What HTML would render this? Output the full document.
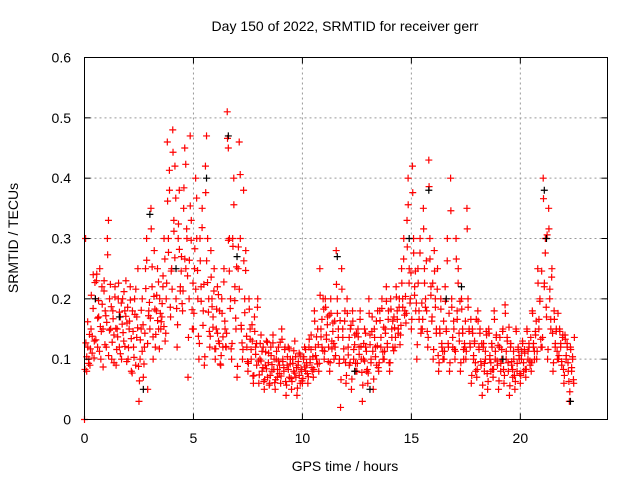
<!DOCTYPE html>
<html><head><meta charset="utf-8"><style>
body{margin:0;background:#fff;}
svg text{font-family:"Liberation Sans",sans-serif;font-size:14px;fill:#000;}
</style></head><body>
<svg id="chart" width="640" height="480" xmlns="http://www.w3.org/2000/svg">
<rect width="640" height="480" fill="#fff"/>
<g id="grid"></g>
<g id="pts"></g>
<rect x="84.5" y="57.5" width="523" height="362" fill="none" stroke="#000"/>
<g id="ticks"></g>
<text x="345" y="31" text-anchor="middle">Day 150 of 2022, SRMTID for receiver gerr</text>
<text x="345" y="471" text-anchor="middle">GPS time / hours</text>
<text x="0" y="0" text-anchor="middle" transform="translate(18,238) rotate(-90)">SRMTID / TECUs</text>
</svg>
<script>
const xTicks=[0,5,10,15,20];
const yTicks=[0,0.1,0.2,0.3,0.4,0.5,0.6];
const yTickLabels=["0","0.1","0.2","0.3","0.4","0.5","0.6"];
const binWidth=0.25;
const redBins=[
[0.0,0.3,0.08,0.12,0.1],[0.09,0.15,0.11,0.24,0.13],[0.2,0.23,0.12,0.17,0.25],[0.1,0.22,0.15,0.23,0.18],
[0.12,0.3,0.33,0.2,0.15],[0.1,0.18,0.14,0.22,0.09],[0.15,0.2,0.12,0.17,0.1],[0.2,0.13,0.18,0.23,0.16],
[0.1,0.15,0.22,0.08,0.18],[0.12,0.2,0.09,0.17,0.25],[0.03,0.1,0.15,0.2,0.07],[0.12,0.25,0.3,0.05,0.18],
[0.15,0.35,0.22,0.1,0.28],[0.12,0.18,0.25,0.15,0.2],[0.15,0.17,0.22,0.3,0.13],[0.2,0.46,0.3,0.38,0.17],
[0.25,0.48,0.33,0.42,0.2],[0.12,0.3,0.38,0.22,0.27],[0.18,0.35,0.45,0.25,0.3],[0.07,0.2,0.47,0.33,0.15],
[0.15,0.25,0.4,0.3,0.2],[0.1,0.3,0.22,0.35,0.18],[0.09,0.42,0.47,0.3,0.2],[0.12,0.28,0.2,0.17,0.25],
[0.1,0.15,0.22,0.13,0.18],[0.09,0.2,0.12,0.25,0.15],[0.12,0.51,0.45,0.3,0.2],[0.1,0.3,0.4,0.22,0.15],
[0.07,0.25,0.46,0.3,0.15],[0.1,0.38,0.2,0.28,0.12],[0.08,0.2,0.15,0.1,0.13],[0.06,0.17,0.12,0.09,0.2],
[0.06,0.1,0.14,0.08,0.12],[0.05,0.09,0.13,0.07,0.11],[0.06,0.12,0.08,0.14,0.1],[0.05,0.1,0.07,0.12,0.09],
[0.06,0.15,0.1,0.08,0.12],[0.04,0.09,0.12,0.07,0.1],[0.05,0.1,0.08,0.13,0.07],[0.04,0.09,0.11,0.06,0.08],
[0.06,0.1,0.12,0.08,0.09],[0.06,0.12,0.1,0.14,0.08],[0.07,0.18,0.12,0.1,0.15],[0.08,0.25,0.15,0.12,0.2],
[0.1,0.2,0.14,0.17,0.12],[0.08,0.2,0.13,0.16,0.1],[0.12,0.28,0.2,0.15,0.1],[0.02,0.25,0.15,0.1,0.18],
[0.06,0.2,0.12,0.09,0.15],[0.05,0.18,0.1,0.14,0.08],[0.08,0.15,0.12,0.18,0.1],[0.03,0.1,0.15,0.12,0.08],
[0.06,0.2,0.14,0.1,0.17],[0.05,0.15,0.12,0.09,0.18],[0.08,0.18,0.12,0.2,0.1],[0.1,0.15,0.22,0.12,0.18],
[0.08,0.2,0.15,0.12,0.17],[0.12,0.22,0.18,0.15,0.2],[0.14,0.25,0.2,0.3,0.18],[0.16,0.33,0.4,0.25,0.2],
[0.15,0.42,0.3,0.22,0.18],[0.1,0.25,0.18,0.3,0.15],[0.15,0.35,0.25,0.2,0.18],[0.12,0.43,0.3,0.22,0.17],
[0.1,0.28,0.2,0.15,0.25],[0.08,0.15,0.2,0.12,0.1],[0.1,0.22,0.15,0.3,0.12],[0.08,0.4,0.2,0.12,0.15],
[0.1,0.3,0.18,0.25,0.13],[0.08,0.2,0.15,0.1,0.12],[0.1,0.35,0.2,0.15,0.12],[0.06,0.15,0.1,0.13,0.08],
[0.07,0.18,0.12,0.15,0.09],[0.04,0.12,0.08,0.1,0.14],[0.05,0.15,0.1,0.08,0.12],[0.07,0.18,0.1,0.14,0.09],
[0.05,0.12,0.08,0.1,0.15],[0.06,0.19,0.1,0.13,0.08],[0.04,0.12,0.09,0.07,0.1],[0.05,0.15,0.08,0.12,0.1],
[0.06,0.1,0.13,0.08,0.11],[0.07,0.15,0.1,0.12,0.09],[0.08,0.18,0.12,0.1,0.14],[0.1,0.25,0.15,0.2,0.12],
[0.12,0.4,0.22,0.3,0.17],[0.1,0.35,0.2,0.15,0.25],[0.08,0.18,0.12,0.15,0.1],[0.1,0.15,0.12,0.09,0.14],
[0.06,0.14,0.1,0.12,0.08],[0.03,0.12,0.08,0.1,0.06]
];
const redBins2=[
[0.083,0.127,0.104,0.162,0.093,0.141],[0.117,0.206,0.138,0.184,0.102,0.227],[0.132,0.241,0.168,0.197,0.113,0.154],[0.146,0.191,0.087,0.213,0.124,0.172],
[0.161,0.273,0.106,0.148,0.224,0.187],[0.128,0.167,0.094,0.203,0.151,0.116],[0.137,0.226,0.178,0.109,0.193,0.158],[0.144,0.212,0.121,0.171,0.096,0.186],
[0.119,0.163,0.198,0.134,0.077,0.146],[0.103,0.174,0.216,0.136,0.152,0.088],[0.064,0.132,0.181,0.113,0.157,0.092],[0.143,0.217,0.264,0.126,0.172,0.194],
[0.168,0.316,0.253,0.137,0.204,0.183],[0.141,0.206,0.164,0.228,0.117,0.176],[0.162,0.192,0.238,0.154,0.266,0.143],[0.226,0.362,0.277,0.413,0.186,0.246],
[0.216,0.443,0.312,0.268,0.367,0.184],[0.157,0.324,0.282,0.213,0.246,0.192],[0.213,0.384,0.266,0.423,0.316,0.238],[0.136,0.264,0.354,0.297,0.182,0.226],
[0.176,0.283,0.216,0.367,0.247,0.138],[0.126,0.263,0.196,0.318,0.156,0.224],[0.104,0.376,0.263,0.227,0.178,0.146],[0.138,0.236,0.187,0.153,0.213,0.117],
[0.117,0.183,0.143,0.207,0.126,0.092],[0.106,0.176,0.137,0.228,0.163,0.121],[0.143,0.466,0.297,0.246,0.184,0.117],[0.126,0.287,0.356,0.197,0.168,0.253],
[0.088,0.286,0.216,0.406,0.156,0.127],[0.116,0.263,0.177,0.247,0.138,0.096],[0.093,0.183,0.133,0.116,0.157,0.072],[0.073,0.146,0.108,0.126,0.186,0.097],
[0.074,0.126,0.097,0.113,0.086,0.063],[0.066,0.112,0.084,0.128,0.094,0.057],[0.073,0.106,0.091,0.127,0.083,0.061],[0.066,0.113,0.083,0.097,0.076,0.128],
[0.072,0.133,0.096,0.086,0.116,0.063],[0.057,0.104,0.083,0.117,0.092,0.068],[0.063,0.093,0.114,0.077,0.104,0.086],[0.052,0.096,0.073,0.107,0.083,0.064],
[0.068,0.104,0.087,0.116,0.094,0.076],[0.071,0.133,0.094,0.116,0.086,0.104],[0.083,0.163,0.106,0.137,0.092,0.124],[0.093,0.206,0.137,0.166,0.114,0.183],
[0.113,0.186,0.133,0.157,0.096,0.173],[0.094,0.176,0.117,0.146,0.126,0.163],[0.106,0.224,0.176,0.136,0.093,0.164],[0.066,0.216,0.136,0.117,0.163,0.094],
[0.073,0.176,0.107,0.136,0.094,0.156],[0.067,0.163,0.116,0.124,0.093,0.143],[0.093,0.137,0.108,0.166,0.121,0.078],[0.057,0.126,0.097,0.143,0.113,0.083],
[0.077,0.176,0.124,0.094,0.146,0.113],[0.067,0.136,0.104,0.163,0.122,0.086],[0.094,0.164,0.136,0.184,0.112,0.153],[0.113,0.143,0.196,0.126,0.166,0.094],
[0.094,0.183,0.136,0.163,0.114,0.152],[0.136,0.203,0.166,0.143,0.186,0.124],[0.156,0.226,0.186,0.266,0.173,0.204],[0.176,0.286,0.356,0.226,0.193,0.243],
[0.166,0.376,0.276,0.206,0.246,0.193],[0.124,0.226,0.166,0.276,0.143,0.193],[0.166,0.316,0.226,0.186,0.263,0.146],[0.136,0.386,0.266,0.206,0.163,0.226],
[0.116,0.246,0.186,0.143,0.216,0.106],[0.094,0.143,0.183,0.126,0.113,0.163],[0.113,0.196,0.146,0.263,0.126,0.176],[0.094,0.346,0.186,0.136,0.163,0.116],
[0.113,0.266,0.166,0.226,0.143,0.196],[0.094,0.183,0.143,0.116,0.126,0.163],[0.113,0.316,0.186,0.146,0.126,0.166],[0.073,0.143,0.106,0.126,0.094,0.166],
[0.083,0.163,0.116,0.143,0.096,0.126],[0.057,0.126,0.093,0.113,0.146,0.076],[0.063,0.143,0.106,0.094,0.126,0.083],[0.083,0.166,0.113,0.136,0.097,0.123],
[0.064,0.136,0.093,0.116,0.146,0.083],[0.073,0.176,0.113,0.136,0.094,0.153],[0.056,0.126,0.096,0.083,0.113,0.073],[0.063,0.146,0.093,0.116,0.106,0.076],
[0.073,0.113,0.126,0.094,0.116,0.083],[0.083,0.146,0.113,0.126,0.097,0.136],[0.094,0.176,0.126,0.113,0.146,0.163],[0.113,0.226,0.166,0.196,0.133,0.246],
[0.136,0.366,0.226,0.276,0.186,0.306],[0.116,0.316,0.216,0.166,0.236,0.143],[0.094,0.166,0.126,0.146,0.113,0.176],[0.106,0.146,0.126,0.096,0.136,0.083],
[0.073,0.133,0.106,0.126,0.094,0.063],[0.046,0.116,0.086,0.104,0.066,0.136]
];
const blackTimes=[0.5,1.6,2.7,3.0,4.2,5.6,6.6,7.0,11.6,12.4,13.1,14.9,15.8,16.6,17.3,19.2,21.1,21.2,22.3];
const blackValues=[0.2,0.17,0.05,0.34,0.25,0.4,0.47,0.27,0.27,0.08,0.05,0.3,0.38,0.2,0.22,0.1,0.38,0.3,0.03];
const X0=84.5,X1=607.5,Y0=419.5,Y1=57.5;
const xs=v=>X0+v/24*(X1-X0);
const ys=v=>Y0-v/0.6*(Y0-Y1);
const NS="http://www.w3.org/2000/svg";
function mk(tag,attrs,parent){const e=document.createElementNS(NS,tag);for(const k in attrs)e.setAttribute(k,attrs[k]);parent.appendChild(e);return e;}
const grid=document.getElementById('grid'),ticks=document.getElementById('ticks'),pts=document.getElementById('pts');
xTicks.forEach(t=>{
 const x=xs(t);
 if(t>0){const g=mk('line',{x1:x,x2:x,y1:Y0,y2:Y1,stroke:'#999','stroke-dasharray':'2,3'},grid);
 
 }
 mk('line',{x1:x,x2:x,y1:Y0,y2:Y0-6,stroke:'#000'},ticks);
 mk('line',{x1:x,x2:x,y1:Y1,y2:Y1+6,stroke:'#000'},ticks);
 const l=mk('text',{x:x,y:443,'text-anchor':'middle'},ticks);l.textContent=t;
 
 
});
yTicks.forEach((t,i)=>{
 const y=ys(t);
 if(t>0&&t<0.6){const g=mk('line',{x1:X0,x2:X1,y1:y,y2:y,stroke:'#999','stroke-dasharray':'2,3'},grid);
 
 }
 mk('line',{x1:X0,x2:X0+6,y1:y,y2:y,stroke:'#000'},ticks);
 mk('line',{x1:X1,x2:X1-6,y1:y,y2:y,stroke:'#000'},ticks);
 const l=mk('text',{x:71,y:y+5,'text-anchor':'end'},ticks);l.textContent=yTickLabels[i];
 
 
});
function plus(t,v,col){
 const x=xs(t),y=ys(v);
 const p=mk('path',{d:`M${x-3.5},${y}h7M${x},${y-3.5}v7`,stroke:col,'stroke-width':1.2,fill:'none'},pts);
 
 
}
redBins.forEach((bin,i)=>{bin.forEach((v,j)=>{plus(i*binWidth+j*binWidth/bin.length,v,'#f00');});});
redBins2.forEach((bin,i)=>{bin.forEach((v,j)=>{plus(i*binWidth+(j+0.5)*binWidth/bin.length,v,'#f00');});});
blackTimes.forEach((t,i)=>plus(t,blackValues[i],'#000'));
</script>
</body></html>
